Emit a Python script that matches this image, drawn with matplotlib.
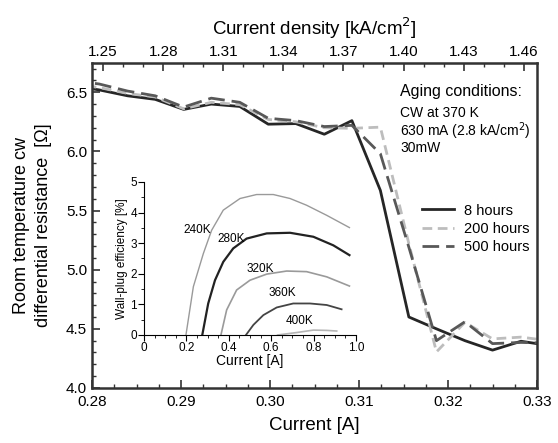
import matplotlib
matplotlib.use("Agg")
import matplotlib.pyplot as plt
from matplotlib.ticker import MultipleLocator

plt.rcParams['font.family'] = ['Liberation Sans', 'DejaVu Sans']

# main panel: differential resistance vs current after aging
current = [0.2777, 0.2808, 0.2840, 0.2871, 0.2903, 0.2934, 0.2966, 0.2998, 0.3029,
           0.3061, 0.3092, 0.3124, 0.3156, 0.3187, 0.3219, 0.3250, 0.3282, 0.3313]
r_8h = [6.555, 6.52, 6.47, 6.44, 6.355, 6.40, 6.38, 6.23, 6.235,
        6.145, 6.26, 5.67, 4.60, 4.50, 4.40, 4.32, 4.395, 4.36]
r_200h = [6.57, 6.54, 6.49, 6.46, 6.36, 6.415, 6.395, 6.27, 6.25,
          6.20, 6.195, 6.205, 5.22, 4.305, 4.555, 4.415, 4.43, 4.40]
r_500h = [6.60, 6.57, 6.51, 6.47, 6.375, 6.45, 6.415, 6.28, 6.26,
          6.21, 6.22, 5.98, 5.19, 4.40, 4.56, 4.375, 4.385, 4.38]

density_ticks = [1.25, 1.28, 1.31, 1.34, 1.37, 1.40, 1.43, 1.46]
area = 0.225  # 630 mA <-> 2.8 kA/cm2

# inset: wall-plug efficiency vs current at several temperatures
i_240 = [0.198, 0.233, 0.28, 0.319, 0.374, 0.453, 0.531, 0.61, 0.689, 0.767, 0.862, 0.969]
e_240 = [0.0, 1.58, 2.66, 3.42, 4.08, 4.46, 4.59, 4.59, 4.46, 4.24, 3.91, 3.51]
i_280 = [0.275, 0.303, 0.335, 0.374, 0.421, 0.484, 0.579, 0.689, 0.799, 0.893, 0.969]
e_280 = [0.0, 1.03, 1.79, 2.39, 2.83, 3.15, 3.32, 3.34, 3.21, 2.93, 2.61]
i_320 = [0.363, 0.39, 0.437, 0.5, 0.579, 0.673, 0.767, 0.862, 0.969]
e_320 = [0.0, 0.82, 1.47, 1.79, 1.99, 2.09, 2.07, 1.90, 1.60]
i_360 = [0.481, 0.516, 0.563, 0.626, 0.704, 0.783, 0.862, 0.932]
e_360 = [0.0, 0.33, 0.65, 0.90, 1.03, 1.03, 0.98, 0.84]
i_400 = [0.63, 0.72, 0.799, 0.862, 0.909]
e_400 = [0.0, 0.08, 0.16, 0.15, 0.13]

fig = plt.figure(figsize=(5.58, 4.43), dpi=100)
ax = fig.add_axes([0.1649, 0.1242, 0.7975, 0.7343])

ax.plot(current, r_8h, color='#262626', lw=2.0, label='8 hours')
ax.plot(current, r_200h, color='#bdbdbd', lw=2.0, dashes=(3.5, 2), label='200 hours')
ax.plot(current, r_500h, color='#585858', lw=2.0, dashes=(6, 2.5), label='500 hours')

ax.set_xlim(0.28, 0.33)
ax.set_ylim(4.0, 6.75)
ax.set_xticks([0.28, 0.29, 0.30, 0.31, 0.32, 0.33])
ax.set_xticklabels(['0.28', '0.29', '0.30', '0.31', '0.32', '0.33'])
ax.xaxis.set_minor_locator(MultipleLocator(0.0025))
ax.set_yticks([4.0, 4.5, 5.0, 5.5, 6.0, 6.5])
ax.set_yticklabels(['4.0', '4.5', '5.0', '5.5', '6.0', '6.5'])
ax.yaxis.set_minor_locator(MultipleLocator(0.1))
ax.tick_params(which='both', direction='in', labelsize=11, color='#333333')
ax.tick_params(which='major', length=6, width=1.2)
ax.tick_params(which='minor', length=3, width=1.0)
ax.tick_params(axis='x', pad=5)
for s in ax.spines.values():
    s.set_linewidth(1.8)
    s.set_color('#333333')

ax.set_xlabel('Current [A]', fontsize=13.5, labelpad=6)
ax.set_ylabel('Room temperature cw\ndifferential resistance  [\u03a9]', fontsize=13,
              labelpad=10, linespacing=1.4)

# top axis in current density
top = ax.secondary_xaxis('top', functions=(lambda i: i / area, lambda j: j * area))
top.set_xticks(density_ticks)
top.set_xticklabels([f'{v:.2f}' for v in density_ticks])
top.xaxis.set_minor_locator(MultipleLocator(0.01))
top.tick_params(which='both', direction='in', labelsize=11, color='#333333', pad=3)
top.tick_params(which='major', length=6, width=1.2)
top.tick_params(which='minor', length=3, width=1.0)
top.set_xlabel('Current density [kA/cm$^2$]', fontsize=13.5, labelpad=7)

ax.text(0.692, 0.911, 'Aging conditions:', transform=ax.transAxes, fontsize=11.5, va='center')
ax.text(0.692, 0.844, 'CW at 370 K', transform=ax.transAxes, fontsize=10, va='center')
ax.text(0.692, 0.788, '630 mA (2.8 kA/cm$^2$)', transform=ax.transAxes, fontsize=10, va='center')
ax.text(0.692, 0.737, '30mW', transform=ax.transAxes, fontsize=10, va='center')

ax.legend(loc='upper left', bbox_to_anchor=(0.742, 0.567), frameon=False, fontsize=10.5,
          handlelength=2.2, labelspacing=0.3, handletextpad=0.7, borderaxespad=0,
          borderpad=0)

# inset
ins = fig.add_axes([0.258, 0.2438, 0.380, 0.3454])
ins.plot(i_240, e_240, color='#9a9a9a', lw=1.0)
ins.plot(i_280, e_280, color='#222222', lw=1.6)
ins.plot(i_320, e_320, color='#9a9a9a', lw=1.2)
ins.plot(i_360, e_360, color='#444444', lw=1.3)
ins.plot(i_400, e_400, color='#b5b5b5', lw=1.2)
for lbl, x, y in [('240K', 0.249, 3.42), ('280K', 0.413, 3.15), ('320K', 0.547, 2.17),
                  ('360K', 0.654, 1.36), ('400K', 0.733, 0.46)]:
    ins.text(x, y, lbl, fontsize=8.5, ha='center', va='center')
ins.set_xlim(0, 1.0)
ins.set_ylim(0, 5)
ins.set_xticks([0, 0.2, 0.4, 0.6, 0.8, 1.0])
ins.set_xticklabels(['0', '0.2', '0.4', '0.6', '0.8', '1.0'])
ins.xaxis.set_minor_locator(MultipleLocator(0.05))
ins.yaxis.set_major_locator(MultipleLocator(1))
ins.yaxis.set_minor_locator(MultipleLocator(0.5))
ins.tick_params(which='both', direction='out', labelsize=8.5, pad=1)
ins.tick_params(which='major', length=4)
ins.tick_params(which='minor', length=2)
ins.spines['top'].set_visible(False)
ins.spines['right'].set_visible(False)
ins.patch.set_alpha(0)
ins.set_xlabel('Current [A]', fontsize=10, labelpad=0)
ins.set_ylabel('Wall-plug efficiency [%]', fontsize=8.5, labelpad=2)

fig.savefig('out.png', dpi=100)
